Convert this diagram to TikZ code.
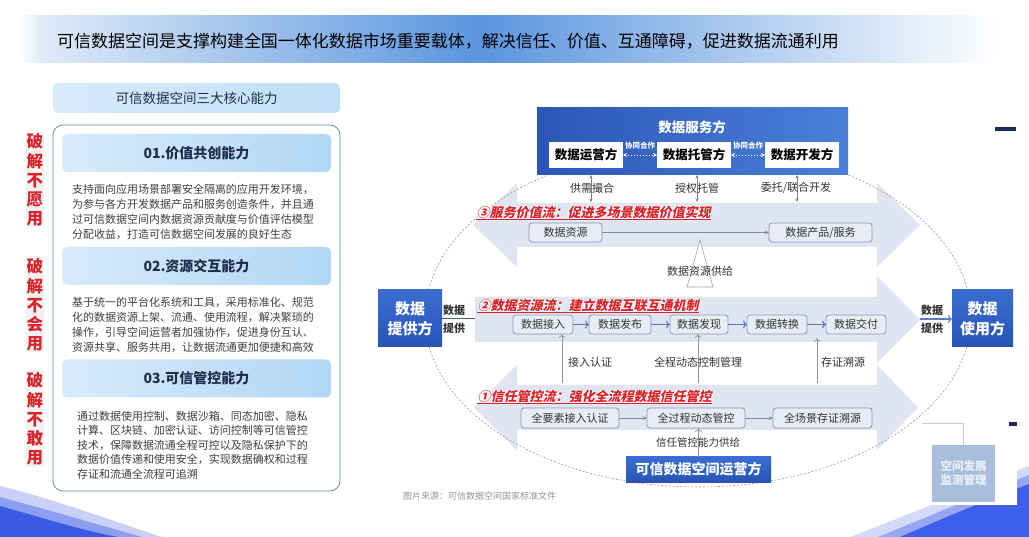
\documentclass[tikz,border=0pt]{standalone}
\usepackage{fontspec}
\setmainfont{Noto Sans CJK SC}
\newfontfamily\slantcjk{Noto Sans CJK SC}[FakeSlant=0.22]
\usetikzlibrary{arrows.meta,calc}
\definecolor{bandc}{HTML}{DFE5F1}
\definecolor{boxfill}{HTML}{E8ECF5}
\definecolor{boxline}{HTML}{8A98B8}
\definecolor{txt}{HTML}{333333}
\definecolor{paratxt}{HTML}{404040}
\definecolor{redc}{HTML}{D8232A}
\definecolor{navy}{HTML}{1F2D4D}
\definecolor{blueA}{HTML}{3A6DD0}
\definecolor{blueB}{HTML}{2753B6}
\definecolor{flowblue}{HTML}{5B7CC4}
\definecolor{grayarr}{HTML}{7F889C}
\definecolor{ban1}{HTML}{E0EBF8}
\definecolor{ban2}{HTML}{5A95DE}
\definecolor{hdrL}{HTML}{D8EBFB}
\definecolor{hdrR}{HTML}{B2D7F4}
\definecolor{outl}{HTML}{6E8C9C}
\definecolor{monc}{HTML}{A9BEDD}
\definecolor{darkbar}{HTML}{1C2B5A}
\newcommand{\fsz}[1]{\fontsize{#1}{#1}\selectfont}
\begin{document}
\begin{tikzpicture}[x=1pt,y=-1pt,
  every node/.style={inner sep=0pt,outer sep=0pt},
  pbox/.style={draw=boxline,fill=boxfill,rounded corners=3pt,line width=0.8pt,text=txt,font=\fsz{11},minimum height=19pt},
  bluebox/.style={top color=blueA,bottom color=blueB,text=white,align=center},
  inbox/.style={fill=white,text=black,font=\fsz{12.5}\bfseries,minimum width=74pt,minimum height=26pt},
  lbl/.style={text=txt,font=\fsz{11}},
  flowtitle/.style={text=redc,font=\slantcjk\bfseries\fsz{13},anchor=west,inner sep=0.5pt},
  band/.style={fill=bandc},
  thinarr/.style={draw=grayarr,line width=0.6pt,-{Stealth[length=4pt,width=3.5pt]}},
  blarr/.style={draw=flowblue,line width=1.2pt,-{To[length=4pt,width=8pt]}},
  uparr/.style={draw=gray!85,line width=0.7pt,-{To[length=4pt,width=7pt]}},
  dblarr/.style={draw=gray,line width=0.6pt,{Stealth[length=3.5pt,width=3pt]}-{Stealth[length=3.5pt,width=3pt]}},
  coop/.style={draw=white,line width=0.9pt,dotted,{Stealth[length=4pt,width=4pt]}-{Stealth[length=4pt,width=4pt]}},
  sechdr/.style={left color=hdrL,right color=hdrR,rounded corners=5pt,minimum width=269pt,minimum height=38pt,text=navy,font=\fsz{14}\bfseries},
  para/.style={text=paratxt,font=\fsz{11},anchor=west},
  redlbl/.style={text=redc,font=\fontsize{16.5}{19.2}\selectfont\bfseries,align=center}
]
\useasboundingbox (0,0) rectangle (1029,537);
\fill[white] (0,0) rectangle (1029,537);

% ---- title banner
\shade[left color=white,right color=ban1] (20,16) rectangle (40,63);
\shade[left color=ban1,right color=ban2] (40,16) rectangle (480,63);
\shade[left color=ban2,right color=white] (480,16) rectangle (1000,63);
\node[anchor=west,font=\fsz{17},text=black] (title) at (57,41) {可信数据空间是支撑构建全国一体化数据市场重要载体，解决信任、价值、互通障碍，促进数据流通利用};

% ---- decorative swooshes
\fill[fill={rgb,255:red,201;green,209;blue,247}] (0,486) .. controls (50,498) and (110,520) .. (162,537) -- (0,537) -- cycle;
\fill[fill={rgb,255:red,140;green,158;blue,240}] (0,497) .. controls (45,509) and (100,525) .. (142,537) -- (0,537) -- cycle;
\fill[fill={rgb,255:red,58;green,90;blue,228}] (0,506) .. controls (40,517) and (80,530) .. (118,537) -- (0,537) -- cycle;
\fill[fill={rgb,255:red,211;green,218;blue,248}] (850,537) .. controls (920,510) and (980,485) .. (1029,466) -- (1029,537) -- cycle;
\fill[fill={rgb,255:red,149;green,167;blue,242}] (878,537) .. controls (940,512) and (990,490) .. (1029,475) -- (1029,537) -- cycle;
\fill[fill={rgb,255:red,61;green,94;blue,232}] (900,537) .. controls (955,513) and (1000,495) .. (1029,484) -- (1029,537) -- cycle;
\fill[white] (860,440) rectangle (1017,505);

% ---- left panel
\node[left color=hdrL,right color={rgb,255:red,192;green,223;blue,247},rounded corners=5pt,minimum width=287pt,minimum height=30pt,text=navy,font=\fsz{13.5}] (core) at (196.5,98) {可信数据空间三大核心能力};
\draw[draw=outl,line width=0.8pt,rounded corners=10pt] (53,125) rectangle (340,491);
\fill[gray!10] (26,132) rectangle (44,227);
\fill[gray!10] (26,258) rectangle (44,352);
\fill[gray!10] (26,371) rectangle (44,467);
\node[redlbl] (r1) at (35,180) {破\\解\\不\\愿\\用};
\node[redlbl] (r2) at (35,305) {破\\解\\不\\会\\用};
\node[redlbl] (r3) at (35,419) {破\\解\\不\\敢\\用};

\node[sechdr] (s1) at (196.5,153) {01.价值共创能力};
\node[sechdr] (s2) at (196.5,266) {02.资源交互能力};
\node[sechdr] (s3) at (196.5,378.5) {03.可信管控能力};

\foreach \t [count=\i] in {支持面向应用场景部署安全隔离的应用开发环境，,为参与各方开发数据产品和服务创造条件，并且通,过可信数据空间内数据资源贡献度与价值评估模型,分配收益，打造可信数据空间发展的良好生态}
  \node[para] (pa\i) at (72,{189+(\i-1)*15}) {\t};
\foreach \t [count=\i] in {基于统一的平台化系统和工具，采用标准化、规范,化的数据资源上架、流通、使用流程，解决繁琐的,操作，引导空间运营者加强协作，促进身份互认、,资源共享、服务共用，让数据流通更加便捷和高效}
  \node[para] (pb\i) at (72,{302+(\i-1)*15}) {\t};
\foreach \t [count=\i] in {通过数据使用控制、数据沙箱、同态加密、隐私,计算、区块链、加密认证、访问控制等可信管控,技术，保障数据流通全程可控以及隐私保护下的,数据价值传递和使用安全，实现数据确权和过程,存证和流通全流程可追溯}
  \node[para] (pc\i) at (77,{416+(\i-1)*14.5}) {\t};

% ---- big flow bands
\fill[band] (517,203) -- (877,203) -- (877,183) -- (920,225) -- (877,267) -- (877,247) -- (517,247) -- (517,267) -- (473,225) -- (517,183) -- cycle;
\fill[band] (475,297) -- (877,297) -- (877,276) -- (920,319.5) -- (877,363) -- (877,342) -- (475,342) -- cycle;
\fill[band] (517,385) -- (877,385) -- (877,365) -- (918,407.5) -- (877,450) -- (877,430) -- (517,430) -- (517,450) -- (474,407.5) -- (517,365) -- cycle;

% ---- dashed ellipse
\draw[draw=gray!80,line width=0.6pt,dash pattern=on 2pt off 1.8pt] (698,317) ellipse [x radius=273,y radius=170];

% ---- supply triangle
\draw[draw=gray!70,fill=white,line width=0.6pt] (700,240) -- (713,287) -- (687,287) -- cycle;
\node[lbl] (supply) at (700,271) {数据资源供给};

% ---- data service side
\node[left color={rgb,255:red,43;green,86;blue,185},right color={rgb,255:red,74;green,128;blue,216},minimum width=311pt,minimum height=67pt] (sf) at (692.5,141.5) {};
\node[text=white,font=\fsz{13.5}\bfseries] (sft) at (692,127) {数据服务方};
\node[inbox] (yy) at (586,155) {数据运营方};
\node[inbox] (tg) at (694,155) {数据托管方};
\node[inbox] (kf) at (802,155) {数据开发方};
\draw[coop] (yy.east) -- (tg.west);
\draw[coop] (tg.east) -- (kf.west);
\node[text=white,font=\fsz{7.5}\bfseries] (co1) at (640,146) {协同合作};
\node[text=white,font=\fsz{7.5}\bfseries] (co2) at (748,146) {协同合作};

\coordinate (d1) at (591,202);
\coordinate (d2) at (697,202);
\coordinate (d3) at (797,202);
\draw[dblarr] (d1 |- sf.south) -- (d1);
\draw[dblarr] (d2 |- sf.south) -- (d2);
\draw[dblarr] (d3 |- sf.south) -- (d3);
\node[lbl] (l1) at (592,188) {供需撮合};
\node[lbl] (l2) at (697,188) {授权托管};
\node[lbl] (l3) at (796,188) {委托/联合开发};

% ---- flow titles with white glow
\foreach \dx/\dy [count=\k] in {-0.9/0,0.9/0,0/-0.9,0/0.9,-0.7/-0.7,0.7/0.7,-0.7/0.7,0.7/-0.7} {
  \node[flowtitle,text=white] (g3\k) at ($(476,213)+(\dx,\dy)$) {③服务价值流：促进多场景数据价值实现};
  \node[flowtitle,text=white] (g2\k) at ($(477,306)+(\dx,\dy)$) {②数据资源流：建立数据互联互通机制};
  \node[flowtitle,text=white] (g1\k) at ($(477,397)+(\dx,\dy)$) {①信任管控流：强化全流程数据信任管控};
}

% ---- flow 3
\node[flowtitle] (t3) at (476,213) {③服务价值流：促进多场景数据价值实现};
\draw[redc,line width=0.9pt] (t3.south west) -- (t3.south east);
\node[pbox,minimum width=73pt] (a1) at (565.5,232.5) {数据资源};
\node[pbox,minimum width=103pt] (a2) at (820.5,232.5) {数据产品/服务};
\draw[thinarr] (a1) -- (a2);

% ---- flow 2
\node[flowtitle] (t2) at (477,306) {②数据资源流：建立数据互联互通机制};
\draw[redc,line width=0.9pt] (t2.south west) -- (t2.south east);
\node[pbox,minimum width=60pt] (b1) at (543,324.5) {数据接入};
\node[pbox,minimum width=62pt] (b2) at (620,324.5) {数据发布};
\node[pbox,minimum width=58pt] (b3) at (699,324.5) {数据发现};
\node[pbox,minimum width=60pt] (b4) at (777,324.5) {数据转换};
\node[pbox,minimum width=60pt] (b5) at (856,324.5) {数据交付};
\draw[blarr] (b1) -- (b2);
\draw[blarr] (b2) -- (b3);
\draw[blarr] (b3) -- (b4);
\draw[blarr] (b4) -- (b5);

% provider / user
\node[bluebox,minimum width=64pt,minimum height=57pt,font=\fontsize{15}{20}\selectfont\bfseries] (prov) at (410,318.5) {数据\\提供方};
\node[bluebox,minimum width=61pt,minimum height=57pt,font=\fontsize{15}{20}\selectfont\bfseries] (user) at (982.5,318.5) {数据\\使用方};
\coordinate (bandL) at (475,319);
\coordinate (bandR) at (920,319);
\draw[draw={rgb,255:red,74;green,91;blue,130},line width=1pt] (prov.east |- bandL) -- (bandL);
\draw[blarr] (bandR) -- (user.west |- bandR);
\node[lbl,font=\fsz{11}\bfseries] (pl1) at (454,310) {数据};
\node[lbl,font=\fsz{11}\bfseries] (pl2) at (454,328) {提供};
\node[lbl,font=\fsz{11}\bfseries] (ul1) at (932,310) {数据};
\node[lbl,font=\fsz{11}\bfseries] (ul2) at (932,328) {提供};

% vertical control arrows
\coordinate (v1) at (562,383);
\coordinate (v2) at (698,383);
\coordinate (v3) at (817,383);
\coordinate (v3t) at (817,338);
\draw[uparr] (v1) -- (v1 |- b1.south);
\draw[uparr] (v2) -- (v2 |- b3.south);
\draw[uparr] (v3) -- (v3t);
\node[lbl,anchor=west] (vl1) at (568,362) {接入认证};
\node[lbl] (vl2) at (698,362) {全程动态控制管理};
\node[lbl,anchor=west] (vl3) at (821,362) {存证溯源};

% ---- flow 1
\node[flowtitle] (t1) at (477,397) {①信任管控流：强化全流程数据信任管控};
\draw[redc,line width=0.9pt] (t1.south west) -- (t1.south east);
\node[pbox,minimum width=98pt,minimum height=20pt] (c1) at (570,418) {全要素接入认证};
\node[pbox,minimum width=98pt,minimum height=20pt] (c2) at (696,418) {全过程动态管控};
\node[pbox,minimum width=99pt,minimum height=20pt] (c3) at (822.5,418) {全场景存证溯源};
\draw[thinarr] (c1) -- (c2);
\draw[thinarr] (c2) -- (c3);

\node[bluebox,minimum width=145pt,minimum height=25pt,font=\fsz{14}\bfseries] (op) at (698.5,469.5) {可信数据空间运营方};
\draw[uparr] (op.north) -- (op.north |- c2.south);
\node[lbl,font=\fsz{10.5}] (tl) at (698,443) {信任管控能力供给};

% ---- monitoring
\node[fill=monc,text={rgb,255:red,234;green,240;blue,248},minimum width=63pt,minimum height=57pt,align=center,font=\fontsize{11.5}{14}\selectfont\bfseries] (mon) at (963.5,473.5) {空间发展\\监测管理};
\coordinate (monend) at (922,423);
\draw[draw=gray!40,line width=0.7pt] (mon.north) |- (monend);

% ---- marks and caption
\fill[darkbar] (995,127) rectangle (1016,131);
\fill[darkbar] (1009,422) rectangle (1017,426);
\node[anchor=west,text=gray!85,font=\fsz{9}] (cap) at (403,496) {图片来源：可信数据空间国家标准文件};
\end{tikzpicture}
\end{document}
